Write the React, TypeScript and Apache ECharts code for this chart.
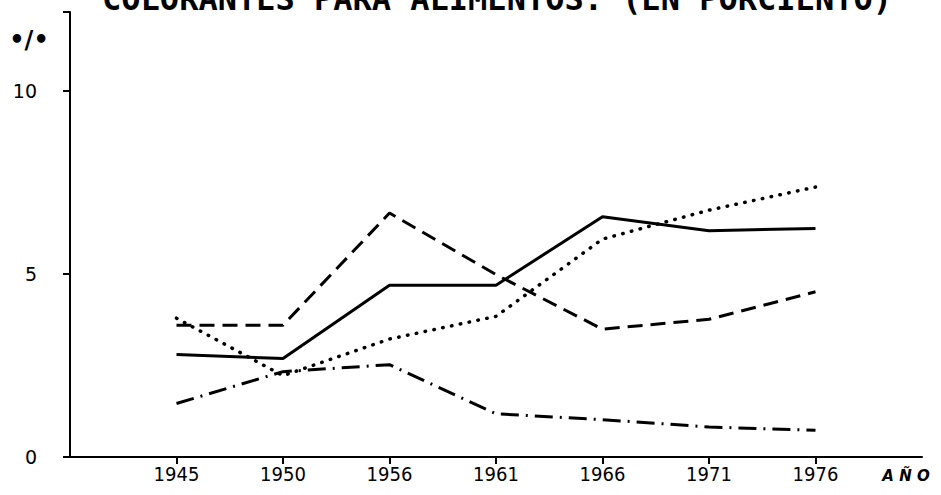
import React, { useEffect, useRef } from "react";
import * as echarts from "echarts";

const years = ["1945", "1950", "1956", "1961", "1966", "1971", "1976"];
const solidSeries = [2.8, 2.69, 4.69, 4.69, 6.56, 6.18, 6.24];
const dashedSeries = [3.6, 3.6, 6.66, 4.98, 3.49, 3.76, 4.51];
const dottedSeries = [3.79, 2.22, 3.22, 3.84, 5.95, 6.74, 7.37];
const dashDotSeries = [1.46, 2.33, 2.52, 1.18, 1.02, 0.82, 0.73];
const yTicks = [0, 5, 10];
const titleText = "COLORANTES PARA ALIMENTOS: (EN PORCIENTO)";
const yUnit = "•/•";
const xName = "A Ñ O";

// padded categories: an empty slot at the origin and one at the axis end
const xCats = ["", ...years, ""];
const pad = (arr: number[]) => [null, ...arr, null];

const W = 941;
const H = 495;
const G = { left: 70, right: 19, top: 12, bottom: 38 };

export default function App() {
  const ref = useRef<HTMLDivElement>(null);
  useEffect(() => {
    if (!ref.current) return;
    const chart = echarts.init(ref.current, null, { renderer: "svg" });
    const labelFont = "'Liberation Sans Narrow', 'DejaVu Sans Condensed', sans-serif";
    const black = "#000";
    const tickInterval = (_i: number, v: string) => v !== "";
    chart.setOption({
      animation: false,
      backgroundColor: "#fff",
      grid: G,
      xAxis: {
        type: "category",
        data: xCats,
        boundaryGap: false,
        position: "bottom",
        axisLine: { show: true, onZero: false, lineStyle: { color: black, width: 2 } },
        axisTick: { show: true, interval: tickInterval, length: 7, lineStyle: { color: black, width: 2 } },
        axisLabel: {
          show: true,
          interval: 0,
          color: black,
          fontFamily: labelFont,
          fontSize: 20,
          margin: 7,
        },
        splitLine: { show: false },
      },
      yAxis: {
        type: "value",
        min: 0,
        max: 12.15,
        interval: 5,
        position: "left",
        axisLine: { show: true, onZero: false, lineStyle: { color: black, width: 2 } },
        axisTick: { show: true, length: 7, lineStyle: { color: black, width: 2 } },
        axisLabel: {
          show: true,
          customValues: yTicks,
          color: black,
          fontFamily: "'DejaVu Sans', sans-serif",
          fontSize: 19,
          margin: 33,
        },
        splitLine: { show: false },
      },
      graphic: [
        {
          type: "text",
          x: 497,
          y: 15,
          style: {
            text: titleText,
            fill: black,
            font: "bold 32px 'DejaVu Sans Mono', monospace",
            align: "center",
            verticalAlign: "bottom",
          },
        },
        {
          type: "text",
          x: 29,
          y: 40,
          style: {
            text: yUnit,
            fill: black,
            font: "bold 24px 'DejaVu Sans', sans-serif",
            align: "center",
            verticalAlign: "middle",
          },
        },
        {
          type: "text",
          x: 906,
          y: 476,
          style: {
            text: xName,
            fill: black,
            font: "italic bold 15px 'DejaVu Sans', sans-serif",
            align: "center",
            verticalAlign: "middle",
          },
        },
      ],
      series: [
        {
          type: "line",
          data: pad(solidSeries),
          symbol: "none",
          lineStyle: { color: black, width: 3, type: "solid" },
        },
        {
          type: "line",
          data: pad(dashedSeries),
          symbol: "none",
          lineStyle: { color: black, width: 3, type: [15, 8] },
        },
        {
          type: "line",
          data: pad(dottedSeries),
          symbol: "none",
          lineStyle: { color: black, width: 3.5, type: [0.5, 8.5], cap: "round" },
        },
        {
          type: "line",
          data: pad(dashDotSeries),
          symbol: "none",
          lineStyle: { color: black, width: 3, type: [18, 7, 2, 7] },
        },
      ],
    });
    return () => chart.dispose();
  }, []);
  return (
    <div
      ref={ref}
      style={{ position: "fixed", left: 0, top: 0, width: W, height: H, background: "#fff" }}
    />
  );
}
